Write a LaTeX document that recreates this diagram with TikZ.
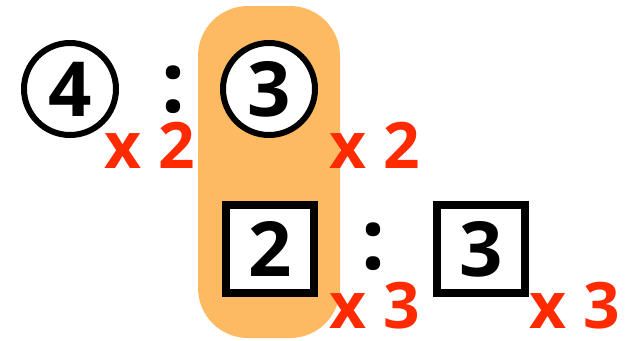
\documentclass[tikz,border=0pt]{standalone}
\usepackage{fontspec}
\setmainfont{Open Sans}
\usepackage{tikz}
\usetikzlibrary{calc,positioning}

\definecolor{hlorange}{HTML}{FDBA62}
\definecolor{mulred}{HTML}{FF2A00}

\begin{document}
\begin{tikzpicture}[x=1pt, y=-1pt,
    num/.style={font=\fontsize{76}{76}\selectfont\bfseries, inner sep=0pt},
    ring/.style={num, circle, draw=black, fill=white, line width=6pt, minimum size=92pt},
    sqbox/.style={num, rectangle, draw=black, fill=white, line width=8pt, minimum size=88pt},
    colon/.style={font=\fontsize{84}{84}\selectfont\bfseries, inner sep=0pt, anchor=base},
    mul/.style={font=\fontsize{64}{64}\selectfont\bfseries, text=mulred, inner sep=0pt, anchor=base}]
    \useasboundingbox (0,0) rectangle (626,340);

    \fill[hlorange, rounded corners=50pt] (198,6) rectangle (340,338);

    \node[ring] (c4) at (70,89) {4};
    \node[colon] (col1) at (173,112) {:};
    \node[ring] (c3) at (269,89) {3};
    \node[mul] (m1) at (150,168) {x 2};
    \node[mul] (m2) at (375,168) {x 2};

    \node[sqbox] (s2) at (270,249) {2};
    \node[colon] (col2) at (373,269) {:};
    \node[sqbox] (s3) at (481,249) {3};
    \node[mul] (m3) at (375,328) {x 3};
    \node[mul] (m4) at (575,328) {x 3};

\end{tikzpicture}
\end{document}
